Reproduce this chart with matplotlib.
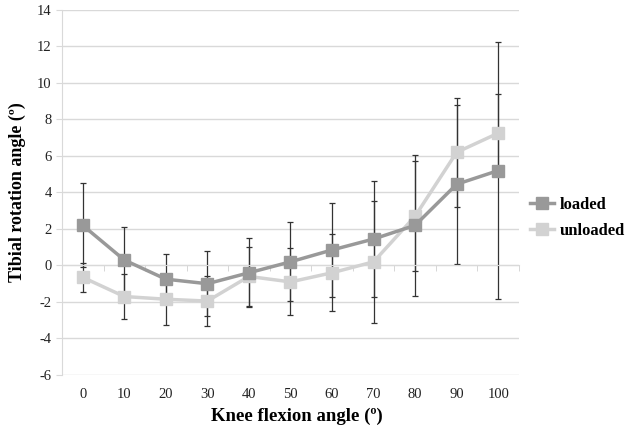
import matplotlib.pyplot as plt
import numpy as np

# datos
flexion = [0, 10, 20, 30, 40, 50, 60, 70, 80, 90, 100]
loaded = [2.2, 0.3, -0.75, -1.0, -0.4, 0.2, 0.85, 1.45, 2.2, 4.45, 5.2]
loaded_sd = [2.3, 1.8, 1.38, 1.78, 1.9, 2.17, 2.6, 3.2, 3.85, 4.35, 7.05]
unloaded = [-0.65, -1.7, -1.85, -1.95, -0.6, -0.9, -0.4, 0.2, 2.7, 6.2, 7.25]
unloaded_sd = [0.8, 1.25, 1.4, 1.35, 1.63, 1.84, 2.1, 3.35, 3.0, 3.0, 2.15]
yticks = [-6, -4, -2, 0, 2, 4, 6, 8, 10, 12, 14]

plt.rcParams['font.family'] = ['Liberation Serif', 'DejaVu Serif']
plt.rcParams['axes.unicode_minus'] = False

fig = plt.figure(figsize=(6.26, 4.34), dpi=100)
ax = fig.add_axes([0.099, 0.136, 0.73, 0.841])

x = np.arange(len(flexion))

ax.errorbar(x, loaded, yerr=loaded_sd, fmt='none', ecolor='#333333',
            elinewidth=0.9, capsize=2.5, capthick=0.9, zorder=2)
ax.errorbar(x, unloaded, yerr=unloaded_sd, fmt='none', ecolor='#333333',
            elinewidth=0.9, capsize=2.5, capthick=0.9, zorder=2)
ax.plot(x, loaded, color='#999999', lw=2.5, marker='s', ms=9,
        label='loaded', zorder=4)
ax.plot(x, unloaded, color='#d2d2d2', lw=2.5, marker='s', ms=9,
        label='unloaded', zorder=3)

ax.set_xlim(-0.5, len(flexion) - 0.5)
ax.set_ylim(-6, 14)
ax.set_yticks(yticks)
ax.yaxis.grid(True, color='#d9d9d9', lw=1)
ax.set_axisbelow(True)

for s in ['top', 'right']:
    ax.spines[s].set_visible(False)
ax.spines['left'].set_color('#d9d9d9')
ax.spines['bottom'].set_position(('data', 0))
ax.spines['bottom'].set_color('#d9d9d9')

ax.set_xticks(x)
ax.set_xticklabels([str(v) for v in flexion])
ax.set_xticks(np.arange(len(flexion) + 1) - 0.5, minor=True)
ax.tick_params(axis='x', which='major', length=0, pad=88, labelsize=10.5,
               colors='#222222')
ax.tick_params(axis='x', which='minor', length=4, color='#d0d0d0')
ax.tick_params(axis='y', length=4, color='#d9d9d9', labelsize=10.5,
               colors='#222222')

ax.set_ylabel('Tibial rotation angle (º)', fontsize=13, fontweight='bold',
              labelpad=8)
fig.text(0.474, 0.03, 'Knee flexion angle (º)', fontsize=13.5,
         fontweight='bold', ha='center')

ax.legend(loc='center left', bbox_to_anchor=(1.025, 0.43), frameon=False,
          prop={'weight': 'bold', 'size': 12}, handlelength=1.4,
          markerscale=0.9, handletextpad=0.35, labelspacing=0.6,
          borderaxespad=0, borderpad=0)

fig.savefig('out.png', dpi=100)
